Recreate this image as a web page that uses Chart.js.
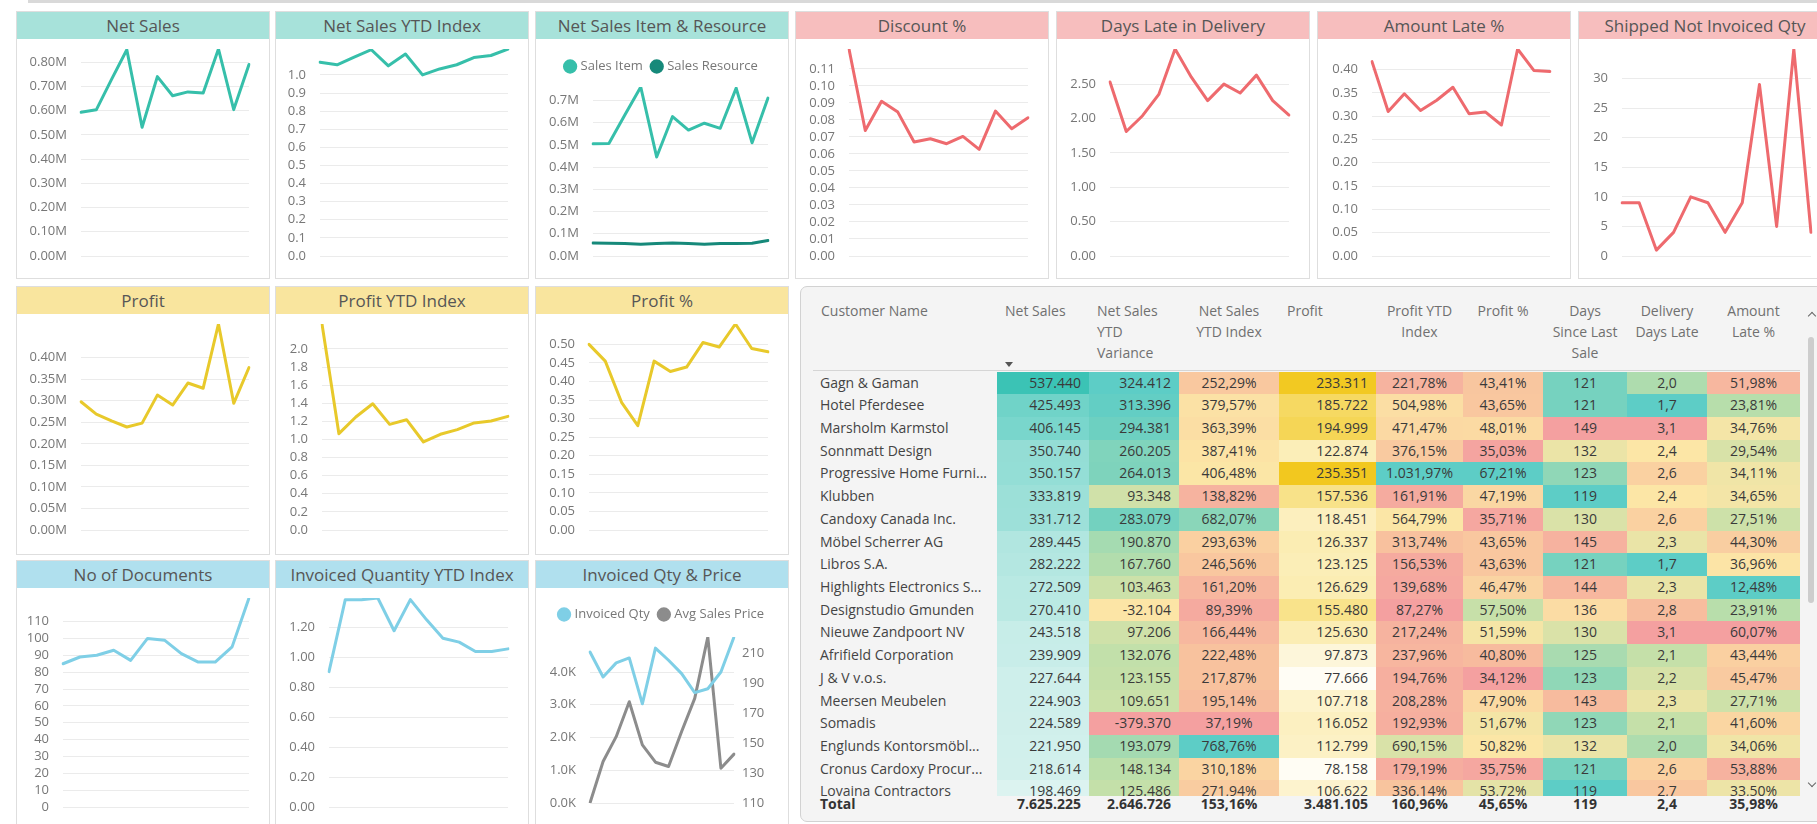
<!DOCTYPE html>
<html lang="en">
<head>
<meta charset="utf-8">
<title>Sales Overview</title>
<script src="https://cdn.jsdelivr.net/npm/chart.js@4.4.1/dist/chart.umd.min.js"></script>
<style>
  html, body { margin: 0; padding: 0; }
  body {
    position: relative;
    width: 1817px;
    height: 824px;
    overflow: hidden;
    background: #ffffff;
    font-family: 'Open Sans', 'Segoe UI', sans-serif;
  }
  .top-rule { position: absolute; left: 28px; top: 0; width: 1789px; height: 3px; background: #d9d9d9; }

  .panel { position: absolute; width: 254px; box-sizing: border-box; border: 1px solid #dedede; background: #fff; }
  .panel .head { height: 27px; line-height: 27px; text-align: center; font-size: 17px; color: #565656; white-space: nowrap; overflow: hidden; }
  .panel .plot { position: absolute; left: 0; width: 252px; }
  .teal .head { background: #a7e2da; }
  .pink .head { background: #f7bebe; }
  .yellow .head { background: #f9e59e; }
  .blue .head { background: #b0e0ee; }

  .matrix { position: absolute; left: 800px; top: 286px; width: 1030px; height: 536px; box-sizing: border-box; border: 1px solid #d2d2d2; border-radius: 7px; background: #f4f4f4; }
  .hcell { position: absolute; top: 299.5px; font-size: 14px; line-height: 21px; color: #707070; white-space: pre; }
  .rows { position: absolute; left: 813px; top: 371.5px; width: 987px; height: 424px; overflow: hidden; }
  .cell { position: absolute; box-sizing: border-box; padding: 0 8px; white-space: nowrap; overflow: hidden; font-size: 14px; color: #3a3a3a; }
  .total { position: absolute; box-sizing: border-box; padding: 0 8px; white-space: nowrap; font-size: 14px; font-weight: 700; color: #333; top: 794px; height: 20px; line-height: 20px; }
  .sort-arrow { position: absolute; left: 1005px; top: 362px; width: 0; height: 0; border-left: 4px solid transparent; border-right: 4px solid transparent; border-top: 5px solid #555; }
  .head-rule { position: absolute; left: 813px; top: 370px; width: 987px; height: 1px; background: #d5d5d5; }
  .thumb { position: absolute; left: 1808px; top: 337px; width: 6px; height: 266px; border-radius: 3px; background: #cdcdcd; }
  .chev { position: absolute; width: 5px; height: 5px; border-left: 1.5px solid #666; border-top: 1.5px solid #666; }
</style>
</head>
<body>
<div class="top-rule"></div>
<script>
// ---- monthly series (12 periods) ----
const months = ['Jan', 'Feb', 'Mar', 'Apr', 'May', 'Jun', 'Jul', 'Aug', 'Sep', 'Oct', 'Nov', 'Dec'];

const netSales = [593000, 603000, 729000, 851000, 531000, 740000, 661000, 677000, 672000, 854000, 604000, 790000];
const netSalesYtdIndex = [1.070, 1.056, 1.098, 1.139, 1.050, 1.115, 1.000, 1.033, 1.056, 1.096, 1.107, 1.143];
const salesItem = [505000, 507000, 635000, 761000, 446000, 628000, 567000, 598000, 575000, 756000, 510000, 711000];
const salesResource = [58000, 57000, 56000, 53000, 56000, 58000, 56000, 53000, 56000, 56000, 57000, 70000];
const discountPct = [0.1217, 0.0738, 0.0910, 0.0846, 0.0670, 0.0689, 0.0660, 0.0703, 0.0627, 0.0852, 0.0748, 0.0813];
const daysLate = [2.53, 1.81, 2.04, 2.35, 3.01, 2.60, 2.26, 2.50, 2.37, 2.63, 2.26, 2.05];
const amountLatePct = [0.417, 0.310, 0.348, 0.312, 0.334, 0.362, 0.305, 0.309, 0.281, 0.444, 0.398, 0.396];
const shippedNotInvoiced = [9, 9, 1, 4, 10, 9, 4, 9, 29, 5, 35, 4];
const profit = [297500, 269000, 253000, 239000, 248000, 313000, 290000, 341000, 329000, 478000, 294000, 377000];
const profitYtdIndex = [2.275, 1.064, 1.248, 1.394, 1.167, 1.218, 0.972, 1.057, 1.108, 1.182, 1.204, 1.255];
const profitPct = [0.500, 0.455, 0.344, 0.281, 0.455, 0.427, 0.439, 0.505, 0.493, 0.555, 0.489, 0.480];
const documents = [85, 89, 90, 93, 87, 100, 99, 91, 86, 86, 95, 124];
const invoicedQtyYtdIndex = [0.905, 1.386, 1.386, 1.397, 1.178, 1.386, 1.251, 1.128, 1.102, 1.039, 1.039, 1.057];
const invoicedQty = [4610, 3850, 4280, 4430, 3030, 4730, 4360, 3950, 3370, 3490, 4000, 5070];
const avgSalesPrice = [110, 137.8, 154.4, 177.8, 148.9, 137.3, 134.4, 157.8, 180.0, 221.1, 133.3, 142.7];

// ---- y axis tick labels ----
function steps(from, to, by) {
  const out = [];
  for (let i = 0; from + i * by <= to + by * 1e-6; i++) out.push(+(from + i * by).toFixed(6));
  return out;
}
const netSalesTicks = steps(0, 800000, 100000);
const netSalesYtdTicks = steps(0, 1.0, 0.1);
const itemResourceTicks = steps(0, 700000, 100000);
const discountTicks = steps(0, 0.11, 0.01);
const daysLateTicks = steps(0, 2.5, 0.5);
const amountLateTicks = steps(0, 0.40, 0.05);
const shippedTicks = steps(0, 30, 5);
const profitTicks = steps(0, 400000, 50000);
const profitYtdTicks = steps(0, 2.0, 0.2);
const profitPctTicks = steps(0, 0.50, 0.05);
const documentsTicks = steps(0, 110, 10);
const invoicedYtdTicks = steps(0, 1.2, 0.2);
const invoicedQtyTicks = steps(0, 4000, 1000);
const avgPriceTicks = steps(110, 210, 20);

// ---- customer table ----
const tableHeaders = ['Customer Name', 'Net Sales', 'Net Sales\nYTD\nVariance', 'Net Sales\nYTD Index', 'Profit',
  'Profit YTD\nIndex', 'Profit %', 'Days\nSince Last\nSale', 'Delivery\nDays Late', 'Amount\nLate %'];
const customers = ['Gagn & Gaman', 'Hotel Pferdesee', 'Marsholm Karmstol', 'Sonnmatt Design', 'Progressive Home Furni...',
  'Klubben', 'Candoxy Canada Inc.', 'Möbel Scherrer AG', 'Libros S.A.', 'Highlights Electronics S...',
  'Designstudio Gmunden', 'Nieuwe Zandpoort NV', 'Afrifield Corporation', 'J & V v.o.s.', 'Meersen Meubelen',
  'Somadis', 'Englunds Kontorsmöbl...', 'Cronus Cardoxy Procur...', 'Lovaina Contractors'];
const tNetSales = [537440, 425493, 406145, 350740, 350157, 333819, 331712, 289445, 282222, 272509, 270410, 243518, 239909, 227644, 224903, 224589, 221950, 218614, 198469];
const tYtdVariance = [324412, 313396, 294381, 260205, 264013, 93348, 283079, 190870, 167760, 103463, -32104, 97206, 132076, 123155, 109651, -379370, 193079, 148134, 125486];
const tYtdIndex = [252.29, 379.57, 363.39, 387.41, 406.48, 138.82, 682.07, 293.63, 246.56, 161.20, 89.39, 166.44, 222.48, 217.87, 195.14, 37.19, 768.76, 310.18, 271.94];
const tProfit = [233311, 185722, 194999, 122874, 235351, 157536, 118451, 126337, 123125, 126629, 155480, 125630, 97873, 77666, 107718, 116052, 112799, 78158, 106622];
const tProfitYtdIndex = [221.78, 504.98, 471.47, 376.15, 1031.97, 161.91, 564.79, 313.74, 156.53, 139.68, 87.27, 217.24, 237.96, 194.76, 208.28, 192.93, 690.15, 179.19, 336.14];
const tProfitPct = [43.41, 43.65, 48.01, 35.03, 67.21, 47.19, 35.71, 43.65, 43.63, 46.47, 57.50, 51.59, 40.80, 34.12, 47.90, 51.67, 50.82, 35.75, 53.72];
const tDaysSinceSale = [121, 121, 149, 132, 123, 119, 130, 145, 121, 144, 136, 130, 125, 123, 143, 123, 132, 121, 119];
const tDeliveryDaysLate = [2.0, 1.7, 3.1, 2.4, 2.6, 2.4, 2.6, 2.3, 1.7, 2.3, 2.8, 3.1, 2.1, 2.2, 2.3, 2.1, 2.0, 2.6, 2.7];
const tAmountLatePct = [51.98, 23.81, 34.76, 29.54, 34.11, 34.65, 27.51, 44.30, 36.96, 12.48, 23.91, 60.07, 43.44, 45.47, 27.71, 41.60, 34.06, 53.88, 33.50];
const tTotals = [7625225, 2646726, 153.16, 3481105, 160.96, 45.65, 119, 2.4, 35.98];

// ---- colours ----
const TEAL = '#36bfaa';
const TEAL_DARK = '#16897a';
const RED = '#ee6a6e';
const YELLOW = '#e8c92b';
const BLUE = '#7fcfe6';
const GRAY = '#8c8c8c';
const DIVERGING = ['#f4a0a0', '#f8c29e', '#fce6a6', '#bcdfaa', '#5dcdc6'];
const DIVERGING_REV = DIVERGING.slice().reverse();

Chart.defaults.font.family = "'Open Sans', 'Segoe UI', sans-serif";
Chart.defaults.font.size = 13;
Chart.defaults.color = '#777777';

// number formats
const fmtM2 = v => (v / 1e6).toFixed(2) + 'M';
const fmtM1 = v => (v / 1e6).toFixed(1) + 'M';
const fmtK1 = v => (v / 1e3).toFixed(1) + 'K';
const fmtD0 = v => v.toFixed(0);
const fmtD1 = v => v.toFixed(1);
const fmtD2 = v => v.toFixed(2);

// push the plot area a few pixels below the legend
const legendGap = {
  id: 'legendGap',
  beforeLayout(chart, args, opts) {
    const lg = chart.legend;
    if (!lg || lg._gapPatched) return;
    const fit = lg.fit;
    lg.fit = function () { fit.call(this); this.height += opts.gap || 0; };
    lg._gapPatched = true;
  }
};

const COL_X = [16, 275, 535, 795, 1056, 1317, 1578];
const ROWS = [
  { top: 11, height: 268, pad: [10, 22] },
  { top: 286, height: 269, pad: [10, 24] },
  { top: 560, height: 270, pad: [10, 22] }
];

function axisOptions(o) {
  return {
    position: o.position,
    min: o.min,
    max: o.max,
    border: { display: false },
    grid: { display: o.grid, color: '#ebebeb', lineWidth: 1, drawTicks: true, tickLength: o.position === 'left' ? 12 : 6, tickColor: 'rgba(0,0,0,0)' },
    ticks: { padding: 2, autoSkip: false, color: '#777777', font: { size: 13 }, callback: v => o.fmt(v) },
    afterBuildTicks: axis => { axis.ticks = o.ticks.map(value => ({ value })); },
    afterFit: axis => { axis.width = o.width; }
  };
}

function buildChart(spec) {
  const row = ROWS[spec.row];
  const panel = document.createElement('div');
  panel.className = 'panel ' + spec.theme;
  panel.style.left = COL_X[spec.col] + 'px';
  panel.style.top = row.top + 'px';
  panel.style.height = row.height + 'px';
  const head = document.createElement('div');
  head.className = 'head';
  head.textContent = spec.title;
  const plot = document.createElement('div');
  plot.className = 'plot';
  plot.style.top = '27px';
  plot.style.height = (row.height - 29) + 'px';
  const canvas = document.createElement('canvas');
  plot.appendChild(canvas);
  panel.append(head, plot);
  document.body.appendChild(panel);

  const pad = spec.pad || row.pad;
  const withLegend = spec.series.length > 1;
  const leftValues = spec.series.filter(s => !s.right).flatMap(s => s.data);

  const scales = {
    x: { display: false, offset: false },
    y: axisOptions({ position: 'left', min: 0, max: Math.max(...leftValues), ticks: spec.ticks, fmt: spec.fmt, width: spec.plotLeft - 1, grid: true })
  };
  const right = spec.series.find(s => s.right);
  if (right) {
    scales.y1 = axisOptions({ position: 'right', min: Math.min(...right.data), max: Math.max(...right.data), ticks: spec.rightTicks, fmt: spec.rightFmt, width: 54, grid: false });
  } else if (withLegend) {
    scales.yPad = { position: 'right', display: true, grid: { display: false }, border: { display: false }, ticks: { display: false }, afterFit: a => { a.width = 20; } };
  }

  return new Chart(canvas.getContext('2d'), {
    type: 'line',
    data: {
      labels: months,
      datasets: spec.series.map(s => ({
        label: s.label || spec.title,
        data: s.data,
        borderColor: s.color,
        backgroundColor: s.color,
        borderWidth: 3,
        pointRadius: 0,
        pointHoverRadius: 0,
        tension: 0,
        borderJoinStyle: 'round',
        borderCapStyle: 'round',
        yAxisID: s.right ? 'y1' : 'y'
      }))
    },
    options: {
      responsive: true,
      maintainAspectRatio: false,
      animation: false,
      events: [],
      layout: { padding: { left: 0, right: withLegend ? 0 : 20, top: pad[0], bottom: pad[1] } },
      plugins: {
        legend: withLegend ? {
          display: true,
          position: 'top',
          align: 'center',
          labels: { usePointStyle: true, pointStyle: 'circle', boxWidth: 8, boxHeight: 8, padding: 10, color: '#777777', font: { size: 13 } }
        } : { display: false },
        tooltip: { enabled: false },
        legendGap: { gap: spec.gap || 0 }
      },
      scales
    },
    plugins: [legendGap]
  });
}

const charts = [
  { col: 0, row: 0, theme: 'teal', title: 'Net Sales', series: [{ data: netSales, color: TEAL }], ticks: netSalesTicks, fmt: fmtM2, plotLeft: 65 },
  { col: 1, row: 0, theme: 'teal', title: 'Net Sales YTD Index', series: [{ data: netSalesYtdIndex, color: TEAL }], ticks: netSalesYtdTicks, fmt: fmtD1, plotLeft: 45 },
  { col: 2, row: 0, theme: 'teal', title: 'Net Sales Item & Resource',
    series: [{ label: 'Sales Item', data: salesItem, color: TEAL }, { label: 'Sales Resource', data: salesResource, color: TEAL_DARK }],
    ticks: itemResourceTicks, fmt: fmtM1, plotLeft: 58, pad: [11, 22], gap: 4 },
  { col: 3, row: 0, theme: 'pink', title: 'Discount %', series: [{ data: discountPct, color: RED }], ticks: discountTicks, fmt: fmtD2, plotLeft: 54 },
  { col: 4, row: 0, theme: 'pink', title: 'Days Late in Delivery', series: [{ data: daysLate, color: RED }], ticks: daysLateTicks, fmt: fmtD2, plotLeft: 54 },
  { col: 5, row: 0, theme: 'pink', title: 'Amount Late %', series: [{ data: amountLatePct, color: RED }], ticks: amountLateTicks, fmt: fmtD2, plotLeft: 55 },
  { col: 6, row: 0, theme: 'pink', title: 'Shipped Not Invoiced Qty', series: [{ data: shippedNotInvoiced, color: RED }], ticks: shippedTicks, fmt: fmtD0, plotLeft: 44 },
  { col: 0, row: 1, theme: 'yellow', title: 'Profit', series: [{ data: profit, color: YELLOW }], ticks: profitTicks, fmt: fmtM2, plotLeft: 65 },
  { col: 1, row: 1, theme: 'yellow', title: 'Profit YTD Index', series: [{ data: profitYtdIndex, color: YELLOW }], ticks: profitYtdTicks, fmt: fmtD1, plotLeft: 47 },
  { col: 2, row: 1, theme: 'yellow', title: 'Profit %', series: [{ data: profitPct, color: YELLOW }], ticks: profitPctTicks, fmt: fmtD2, plotLeft: 54 },
  { col: 0, row: 2, theme: 'blue', title: 'No of Documents', series: [{ data: documents, color: BLUE }], ticks: documentsTicks, fmt: fmtD0, plotLeft: 47 },
  { col: 1, row: 2, theme: 'blue', title: 'Invoiced Quantity YTD Index', series: [{ data: invoicedQtyYtdIndex, color: BLUE }], ticks: invoicedYtdTicks, fmt: fmtD2, plotLeft: 54 },
  { col: 2, row: 2, theme: 'blue', title: 'Invoiced Qty & Price',
    series: [{ label: 'Invoiced Qty', data: invoicedQty, color: BLUE }, { label: 'Avg Sales Price', data: avgSalesPrice, color: GRAY, right: true }],
    ticks: invoicedQtyTicks, fmt: fmtK1, rightTicks: avgPriceTicks, rightFmt: fmtD0, plotLeft: 55, pad: [10, 26], gap: 6 }
];
charts.forEach(buildChart);

// ---- table (conditional formatting) ----
function fmtNum(v, dec) {
  const neg = v < 0;
  const parts = Math.abs(v).toFixed(dec).split('.');
  const int = parts[0].replace(/\B(?=(\d{3})+(?!\d))/g, '.');
  return (neg ? '-' : '') + int + (parts[1] ? ',' + parts[1] : '');
}
const fmtInt = v => fmtNum(v, 0);
const fmtPct = v => fmtNum(v, 2) + '%';
const fmtDay = v => fmtNum(v, 1);

function hexToRgb(h) { const n = parseInt(h.slice(1), 16); return [n >> 16, (n >> 8) & 255, n & 255]; }
function colorAt(stops, t) {
  t = Math.max(0, Math.min(1, t));
  const seg = (stops.length - 1) * t;
  const i = Math.min(Math.floor(seg), stops.length - 2);
  const f = seg - i;
  const a = hexToRgb(stops[i]), b = hexToRgb(stops[i + 1]);
  return 'rgb(' + a.map((c, k) => Math.round(c + (b[k] - c) * f)).join(',') + ')';
}
function ramp(values, stops) {
  const lo = Math.min(...values), hi = Math.max(...values);
  return v => colorAt(stops, (v - lo) / (hi - lo));
}

const tableCols = [
  { x0: 813, x1: 997, align: 'left', headAlign: 'left', values: customers, fmt: v => v, color: null },
  { x0: 997, x1: 1089, align: 'right', headAlign: 'left', values: tNetSales, fmt: fmtInt, color: ramp(tNetSales, ['#dcf3f0', '#3bc3b5']) },
  { x0: 1089, x1: 1179, align: 'right', headAlign: 'left', values: tYtdVariance, fmt: fmtInt, color: ramp(tYtdVariance, DIVERGING) },
  { x0: 1179, x1: 1279, align: 'center', headAlign: 'center', values: tYtdIndex, fmt: fmtPct, color: ramp(tYtdIndex, DIVERGING) },
  { x0: 1279, x1: 1376, align: 'right', headAlign: 'left', values: tProfit, fmt: fmtInt, color: ramp(tProfit, ['#fffdf5', '#f2c81f']) },
  { x0: 1376, x1: 1463, align: 'center', headAlign: 'center', values: tProfitYtdIndex, fmt: fmtPct, color: ramp(tProfitYtdIndex, DIVERGING) },
  { x0: 1463, x1: 1543, align: 'center', headAlign: 'center', values: tProfitPct, fmt: fmtPct, color: ramp(tProfitPct, DIVERGING) },
  { x0: 1543, x1: 1627, align: 'center', headAlign: 'center', values: tDaysSinceSale, fmt: fmtInt, color: ramp(tDaysSinceSale, DIVERGING_REV) },
  { x0: 1627, x1: 1707, align: 'center', headAlign: 'center', values: tDeliveryDaysLate, fmt: fmtDay, color: ramp(tDeliveryDaysLate, DIVERGING_REV) },
  { x0: 1707, x1: 1800, align: 'center', headAlign: 'center', values: tAmountLatePct, fmt: fmtPct, color: ramp(tAmountLatePct, DIVERGING_REV) }
];
const totalFormats = [fmtInt, fmtInt, fmtPct, fmtInt, fmtPct, fmtPct, fmtInt, fmtDay, fmtPct];

function el(cls, parent) {
  const d = document.createElement('div');
  d.className = cls;
  (parent || document.body).appendChild(d);
  return d;
}

el('matrix');
el('head-rule');
el('sort-arrow');

tableCols.forEach((c, ci) => {
  const h = el('hcell');
  h.textContent = tableHeaders[ci];
  h.style.textAlign = c.headAlign;
  if (c.headAlign === 'left') {
    h.style.left = (c.x0 + 8) + 'px';
  } else {
    h.style.left = c.x0 + 'px';
    h.style.width = (c.x1 - c.x0) + 'px';
  }
});

const rowsBox = el('rows');
const ROW_H = 22.72;
customers.forEach((name, ri) => {
  tableCols.forEach(c => {
    const cell = el('cell', rowsBox);
    const v = c.values[ri];
    cell.textContent = c.fmt(v);
    cell.style.left = (c.x0 - 813) + 'px';
    cell.style.width = (c.x1 - c.x0) + 'px';
    cell.style.top = (ri * ROW_H) + 'px';
    cell.style.height = ROW_H + 'px';
    cell.style.lineHeight = ROW_H + 'px';
    cell.style.textAlign = c.align;
    if (c.color) cell.style.background = c.color(v);
    else { cell.style.color = '#444'; cell.style.paddingLeft = '7px'; }
  });
});

const totalLabel = el('total');
totalLabel.textContent = 'Total';
totalLabel.style.left = '813px';
totalLabel.style.paddingLeft = '7px';
tTotals.forEach((v, i) => {
  const c = tableCols[i + 1];
  const t = el('total');
  t.textContent = totalFormats[i](v);
  t.style.left = c.x0 + 'px';
  t.style.width = (c.x1 - c.x0) + 'px';
  t.style.textAlign = c.align;
});

el('thumb');
const up = el('chev');
up.style.left = '1809px'; up.style.top = '313px'; up.style.transform = 'rotate(45deg)';
const down = el('chev');
down.style.left = '1809px'; down.style.top = '780px'; down.style.transform = 'rotate(225deg)';
</script>
</body>
</html>
